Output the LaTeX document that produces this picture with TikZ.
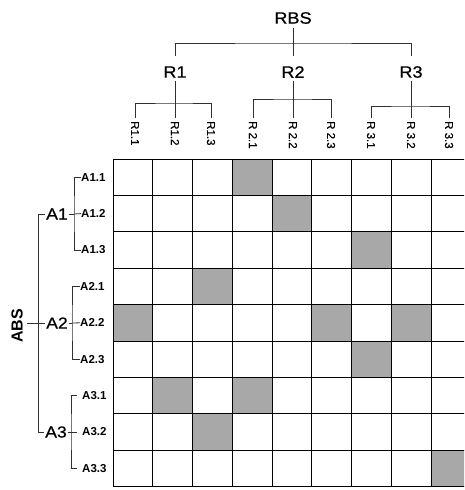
\documentclass[tikz,border=0pt]{standalone}
\usepackage{fontspec}
\setmainfont{Liberation Sans}
\newfontfamily\widefont[FakeStretch=1.1,FakeBold=0.6]{Liberation Sans}
\newfontfamily\smallfont[FakeBold=0.4]{Liberation Sans}
\definecolor{shade}{HTML}{A8A8A8}
\definecolor{treeline}{HTML}{303030}
\begin{document}
\begin{tikzpicture}[x=1pt,y=-1pt,
  tl/.style={draw=treeline, line width=0.8pt},
  big/.style={font=\widefont\fontsize{16.5}{16.5}\selectfont, inner sep=0pt},
  mid/.style={font=\widefont\fontsize{16}{16}\selectfont, inner sep=1pt},
  rlab/.style={font=\smallfont\fontsize{11.5}{11.5}\selectfont, inner sep=0pt, rotate=-90, anchor=west},
  alab/.style={font=\bfseries\fontsize{11.5}{11.5}\selectfont, inner sep=0pt, anchor=west},
  cell/.style={draw=black, line width=0.9pt},
  hit/.style={fill=shade}
]
\useasboundingbox (0,0) rectangle (464,490);
\clip (0,0) rectangle (464,490);
\fill[white] (0,0) rectangle (464,490);

% matrix cells
\foreach \c/\r in {3/0,4/1,6/2,2/3,0/4,5/4,7/4,6/5,1/6,3/6,2/7,8/8}
  \fill[hit] (113+\c*39.75,159+\r*36.4) rectangle ++(39.75,36.4);
\foreach \i in {0,...,9}
  \draw[cell] (113+\i*39.75,159) -- (113+\i*39.75,487);
\foreach \j in {0,...,9}
  \draw[cell] (113,159+\j*36.4) -- (480,159+\j*36.4);

% top tree
\node[big] (RBS) at (293,18) {RBS};
\node[big] (R1) at (175,72) {R1};
\node[big] (R2) at (293,72) {R2};
\node[big] (R3) at (411,72) {R3};
\coordinate (b0) at (293,43);
\draw[tl] ([yshift=-4pt]RBS.south) -- (b0);
\draw[tl] ([yshift=10pt]R1.north) |- (b0) -| ([yshift=10pt]R3.north);
\draw[tl] ([yshift=10pt]R2.north) -- (b0);

\node[rlab] (r11) at (135,121) {R1.1};
\node[rlab] (r12) at (175,121) {R1.2};
\node[rlab] (r13) at (211,121) {R1.3};
\node[rlab] (r21) at (253,121) {R 2.1};
\node[rlab] (r22) at (293,121) {R 2.2};
\node[rlab] (r23) at (331,121) {R 2.3};
\node[rlab] (r31) at (371,121) {R 3.1};
\node[rlab] (r32) at (411,121) {R 3.2};
\node[rlab] (r33) at (449,121) {R 3.3};

\coordinate (s1) at (175,103);
\coordinate (s2) at (293,99);
\coordinate (s3) at (411,106);
\draw[tl] ([yshift=-3pt]R1.south) -- ([yshift=3pt]r12.west);
\draw[tl] ([yshift=3pt]r11.west) |- (s1) -| ([yshift=3pt]r13.west);
\draw[tl] ([yshift=-3pt]R2.south) -- ([yshift=3pt]r22.west);
\draw[tl] ([yshift=3pt]r21.west) |- (s2) -| ([yshift=3pt]r23.west);
\draw[tl] ([yshift=-3pt]R3.south) -- ([yshift=3pt]r32.west);
\draw[tl] ([yshift=3pt]r31.west) |- (s3) -| ([yshift=3pt]r33.west);

% left tree
\node[font=\bfseries\fontsize{16}{16}\selectfont, inner sep=4pt, rotate=90] (ABS) at (17,326) {ABS};
\node[mid] (A1) at (57,214) {A1};
\node[mid] (A2) at (57,323) {A2};
\node[mid] (A3) at (56,432) {A3};
\coordinate (m1) at (38,214);
\coordinate (m3) at (38,432);
\draw[tl] (A1.west) -- (m1) -- (m3) -- (A3.west);
\draw[tl] (ABS.south |- A2.west) -- (A2.west);

\node[alab] (a11) at (81,177.2) {A1.1};
\node[alab] (a12) at (81,213.6) {A1.2};
\node[alab] (a13) at (81,250) {A1.3};
\node[alab] (a21) at (80,286.4) {A2.1};
\node[alab] (a22) at (80,322.8) {A2.2};
\node[alab] (a23) at (80,359.2) {A2.3};
\node[alab] (a31) at (82,395.6) {A3.1};
\node[alab] (a32) at (82,432) {A3.2};
\node[alab] (a33) at (82,468.4) {A3.3};

\coordinate (v1) at (74,214);
\coordinate (v2) at (72,323);
\coordinate (v3) at (71,432);
\draw[tl] (A1.east) -- (v1);
\draw[tl] (a11.west) -| (v1) |- (a13.west);
\draw[tl] (a12.west) -- (v1);
\draw[tl] (A2.east) -- (v2);
\draw[tl] (a21.west) -| (v2) |- (a23.west);
\draw[tl] (a22.west) -- (v2);
\draw[tl] (A3.east) -- (v3);
\draw[tl] ([xshift=-5pt]a31.west) -| (v3) |- ([xshift=-5pt]a33.west);
\draw[tl] ([xshift=-5pt]a32.west) -- (v3);
\end{tikzpicture}
\end{document}
